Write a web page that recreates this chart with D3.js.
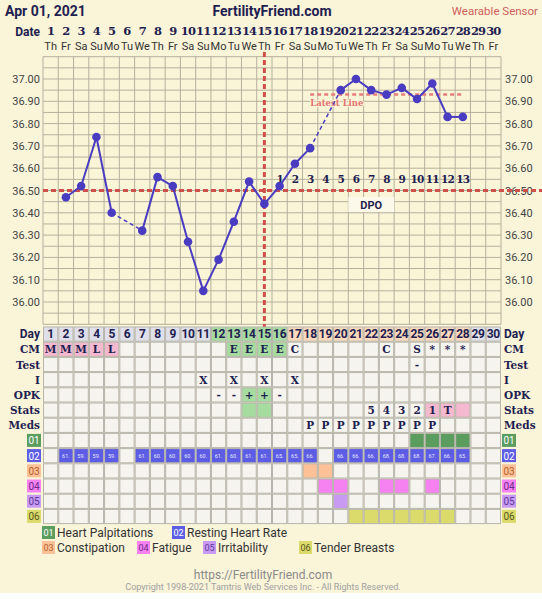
<!DOCTYPE html>
<html><head><meta charset="utf-8">
<script src="https://cdn.jsdelivr.net/npm/d3@7"></script>
<style>
html,body{margin:0;padding:0;background:#fff;}
svg{display:block;}
</style></head>
<body>
<svg id="c" width="542" height="600"></svg>
<script>
// ---------------- DATA ----------------
const days = [1,2,3,4,5,6,7,8,9,10,11,12,13,14,15,16,17,18,19,20,21,22,23,24,25,26,27,28,29,30];
const weekdays = ["Th","Fr","Sa","Su","Mo","Tu","We","Th","Fr","Sa","Su","Mo","Tu","We","Th","Fr","Sa","Su","Mo","Tu","We","Th","Fr","Sa","Su","Mo","Tu","We","Th","Fr"];
const temps = [null,36.47,36.52,36.74,36.40,null,36.32,36.56,36.52,36.27,36.05,36.19,36.36,36.54,36.44,36.52,36.62,36.69,null,36.95,37.00,36.95,36.93,36.96,36.91,36.98,36.83,36.83,null,null];
const tempTicks = [36.00,36.10,36.20,36.30,36.40,36.50,36.60,36.70,36.80,36.90,37.00];
const coverline = 36.50;
const ovulationDay = 15;
const latestLine = 36.93;
const latestLineDays = [18,28];
const dpoDays = [16,17,18,19,20,21,22,23,24,25,26,27,28];
const dpoLabels = ["1","2","3","4","5","6","7","8","9","10","11","12","13"];
const dayPhase = ["g","g","g","g","g","g","g","g","g","g","g","f","f","f","f","f","l","l","l","l","l","l","l","l","l","l","l","l","g","g"];
const cm = ["M","M","M","L","L","","","","","","","","E","E","E","E","C","","","","","","C","","S","*","*","*","",""];
const cmFill = ["p","p","p","p","p","","","","","","","","f","f","f","f","","","","","","","","","","","","","",""];
const test = ["","","","","","","","","","","","","","","","","","","","","","","","","-","","","","",""];
const intercourse = ["","","","","","","","","","","X","","X","","X","","X","","","","","","","","","","","","",""];
const opk = ["","","","","","","","","","","","-","-","+","+","-","","","","","","","","","","","","","",""];
const opkFill = ["","","","","","","","","","","","","","f","f","","","","","","","","","","","","","","",""];
const stats = ["","","","","","","","","","","","","","","","","","","","","","5","4","3","2","1","T","","",""];
const statsFill = ["","","","","","","","","","","","","","f","f","","","","","","","","","","","p","p","p","",""];
const meds = ["","","","","","","","","","","","","","","","","","P","P","P","P","P","P","P","P","P","","","",""];
const sym01 = [25,26,27,28];
const restingHR = ["","61.","59.","59.","59.","","61.","60.","60.","60.","60.","61.","60.","61.","61.","65.","65.","66.","","66.","66.","66.","68.","68.","68.","67.","66.","65.","",""];
const sym03 = [18,19];
const sym04 = [19,20,23,24,26];
const sym05 = [20];
const sym06 = [21,22,23,24,25,26,27];
const tableRows = ["Day","CM","Test","I","OPK","Stats","Meds","01","02","03","04","05","06"];
const legendCodes = ["01","02","03","04","05","06"];
const legendNames = ["Heart Palpitations","Resting Heart Rate","Constipation","Fatigue","Irritability","Tender Breasts"];

// ---------------- STYLE ----------------
const BG = "#faf4d9";
const NAVY = "#1e2150";
const GRID = "#b5b09d";
const LINE = "#4a3cc0";
const RED = "#cf4f4a";
const sans = "Roboto, 'Open Sans', sans-serif";
const serif = "'DejaVu Serif', serif";
const phaseColor = {g:"#dfe0ea", f:"#a7dca1", l:"#fbd9bd", p:"#f4b8cf"};
const symColor = {"01":"#5b9c5f","02":"#5d5ce4","03":"#fcc197","04":"#f681f1","05":"#c99af1","06":"#dbdb6b"};
const symText = {"01":"#fff","02":"#fff","03":"#b5622a","04":"#6a2b8a","05":"#5a3c9a","06":"#555520"};

const svg = d3.select("#c");
svg.append("rect").attr("width",542).attr("height",593).attr("fill",BG);

const x = d3.scaleBand().domain(days).range([43,501]).padding(0);
const bw = x.bandwidth();
const cx = d => x(d) + bw/2;
const y = d3.scaleLinear().domain([35.9,37.1]).range([324.3,56.7]);

// ---------- header ----------
svg.append("text").attr("x",5).attr("y",16).text("Apr 01, 2021")
  .attr("font-family",sans).attr("font-weight","bold").attr("font-size",14).attr("fill",NAVY);
svg.append("text").attr("x",272).attr("y",16).attr("text-anchor","middle").text("FertilityFriend.com")
  .attr("font-family",sans).attr("font-weight","bold").attr("font-size",14).attr("fill",NAVY);
svg.append("text").attr("x",538).attr("y",15).attr("text-anchor","end").text("Wearable Sensor")
  .attr("font-family",sans).attr("font-size",11.5).attr("fill","#cf5f5a");
svg.append("text").attr("x",40).attr("y",36).attr("text-anchor","end").text("Date")
  .attr("font-family",sans).attr("font-weight","bold").attr("font-size",12).attr("fill",NAVY);
svg.append("g").selectAll("text").data(days).join("text")
  .attr("x",d=>cx(d)).attr("y",35).attr("text-anchor","middle").text(d=>d)
  .attr("font-family",serif).attr("font-weight","bold").attr("font-size",11.5).attr("letter-spacing",-0.8).attr("fill",NAVY);
svg.append("g").selectAll("text").data(days).join("text")
  .attr("x",d=>cx(d)).attr("y",50).attr("text-anchor","middle").text((d,i)=>weekdays[i])
  .attr("font-family",sans).attr("font-size",11).attr("fill","#333");

// ---------- chart grid ----------
const g = svg.append("g");
g.append("rect").attr("x",43).attr("y",y(37.1)).attr("width",458).attr("height",y(35.9)-y(37.1)).attr("fill","#fbf5d8");
const hLines = d3.range(0,25).map(i=>35.9+i*0.05);
g.selectAll("line.h").data(hLines).join("line")
  .attr("x1",43).attr("x2",501).attr("y1",d=>y(d)).attr("y2",d=>y(d))
  .attr("stroke",GRID).attr("stroke-width",1);
g.selectAll("line.v").data(days.concat([31])).join("line")
  .attr("x1",d=>d<=30?x(d):501).attr("x2",d=>d<=30?x(d):501)
  .attr("y1",y(37.1)).attr("y2",y(35.9)).attr("stroke",GRID).attr("stroke-width",1);

// axis labels
g.selectAll("text.yl").data(tempTicks).join("text")
  .attr("x",40).attr("y",d=>y(d)+4).attr("text-anchor","end").text(d=>d.toFixed(2))
  .attr("font-family",sans).attr("font-size",11).attr("fill","#444");
g.selectAll("text.yr").data(tempTicks).join("text")
  .attr("x",505).attr("y",d=>y(d)+4).attr("text-anchor","start").text(d=>d.toFixed(2))
  .attr("font-family",sans).attr("font-size",11).attr("fill","#444");

// coverline & ovulation line
g.append("line").attr("x1",43).attr("x2",542).attr("y1",y(coverline)).attr("y2",y(coverline))
  .attr("stroke",RED).attr("stroke-width",3).attr("stroke-dasharray","5,3");
g.append("line").attr("x1",cx(ovulationDay)).attr("x2",cx(ovulationDay)).attr("y1",52).attr("y2",328)
  .attr("stroke",RED).attr("stroke-width",3).attr("stroke-dasharray","5,3");
// latest line
g.append("line").attr("x1",cx(latestLineDays[0])).attr("x2",cx(latestLineDays[1])).attr("y1",y(latestLine)).attr("y2",y(latestLine))
  .attr("stroke","#e77c7a").attr("stroke-width",2.5).attr("stroke-dasharray","4,3");
g.append("text").attr("x",cx(latestLineDays[0])).attr("y",y(latestLine)+11).text("Latest Line")
  .attr("font-family",serif).attr("font-weight","bold").attr("font-size",8.5).attr("fill","#e27373")
  .attr("stroke","#fbf5d8").attr("stroke-width",2).attr("paint-order","stroke");

// DPO
g.selectAll("text.dpo").data(dpoDays).join("text")
  .attr("x",d=>cx(d)).attr("y",y(36.55)+4).attr("text-anchor","middle").text((d,i)=>dpoLabels[i])
  .attr("font-family",serif).attr("font-weight","bold").attr("font-size",10.5).attr("letter-spacing",-0.8).attr("fill",NAVY);
g.append("rect").attr("x",x(21)).attr("y",197).attr("width",bw*3).attr("height",15).attr("fill","#fcf9ea");
g.append("text").attr("x",x(21)+bw*1.5).attr("y",209).attr("text-anchor","middle").text("DPO")
  .attr("font-family",sans).attr("font-weight","bold").attr("font-size",11).attr("fill",NAVY);

// temperature line
const pts = days.map((d,i)=>({d, t:temps[i]})).filter(p=>p.t!==null);
const segs = [];
for(let i=1;i<pts.length;i++){ segs.push({a:pts[i-1], b:pts[i], gap: pts[i].d-pts[i-1].d>1}); }
g.selectAll("line.seg").data(segs).join("line")
  .attr("x1",s=>cx(s.a.d)).attr("y1",s=>y(s.a.t)).attr("x2",s=>cx(s.b.d)).attr("y2",s=>y(s.b.t))
  .attr("stroke",LINE).attr("stroke-width",s=>s.gap?1.5:2).attr("stroke-dasharray",s=>s.gap?"4,3":null);
g.selectAll("circle").data(pts).join("circle")
  .attr("cx",p=>cx(p.d)).attr("cy",p=>y(p.t)).attr("r",4.3).attr("fill",LINE);

// ---------- table ----------
const t0 = 326.5, rh = 15.2;
const ry = r => t0 + tableRows.indexOf(r)*rh;
const tbl = svg.append("g");
function row(name, texts, fills, opts={}){
  const yy = ry(name);
  tbl.append("g").selectAll("rect").data(days).join("rect")
    .attr("x",d=>x(d)+0.5).attr("y",yy+0.5).attr("width",bw-1).attr("height",rh-1)
    .attr("fill",(d,i)=>fills(d,i)||"#f5f4ee").attr("stroke","#b7b5ab").attr("stroke-width",1);
  if(texts){
    tbl.append("g").selectAll("text").data(days).join("text")
      .attr("x",d=>cx(d)).attr("y",yy+rh/2+(opts.dy||4)).attr("text-anchor","middle")
      .text((d,i)=>texts[i])
      .attr("font-family",opts.font||serif).attr("font-weight",opts.weight||"bold")
      .attr("font-size",opts.size||11).attr("letter-spacing",opts.ls||0).attr("fill",opts.color||NAVY);
  }
}
row("Day", days.map(String), (d,i)=>phaseColor[dayPhase[i]], {font:sans, size:12, ls:-0.3});
row("CM", cm, (d,i)=>cmFill[i]?phaseColor[cmFill[i]]:null, {size:10.5});
row("Test", test, ()=>null, {size:10.5});
row("I", intercourse, ()=>null, {size:10.5});
row("OPK", opk, (d,i)=>opkFill[i]?phaseColor[opkFill[i]]:null, {size:10.5});
row("Stats", stats, (d,i)=>statsFill[i]?phaseColor[statsFill[i]]:null, {size:10.5});
row("Meds", meds, ()=>null, {size:10.5});
row("01", null, d=>sym01.includes(d)?symColor["01"]:null);
row("02", restingHR, (d,i)=>restingHR[i]?symColor["02"]:null, {font:sans, weight:"normal", size:5.5, color:"#e8e8ff", dy:2});
row("03", null, d=>sym03.includes(d)?symColor["03"]:null);
row("04", null, d=>sym04.includes(d)?symColor["04"]:null);
row("05", null, d=>sym05.includes(d)?symColor["05"]:null);
row("06", null, d=>sym06.includes(d)?symColor["06"]:null);

// row labels
tableRows.forEach(r=>{
  const yy = ry(r);
  if(legendCodes.includes(r)){
    [27,502].forEach(xx=>{
      tbl.append("rect").attr("x",xx).attr("y",yy+1).attr("width",14).attr("height",13).attr("fill",symColor[r]);
      tbl.append("text").attr("x",xx+7).attr("y",yy+11.5).attr("text-anchor","middle").text(r)
        .attr("font-family",sans).attr("font-size",10).attr("fill",symText[r]);
    });
  } else {
    const isDay = r==="Day";
    tbl.append("text").attr("x",40).attr("y",yy+rh/2+4).attr("text-anchor","end").text(r)
      .attr("font-family",isDay?sans:serif).attr("font-weight","bold").attr("font-size",isDay?12:10.5).attr("fill",NAVY);
    tbl.append("text").attr("x",504).attr("y",yy+rh/2+4).attr("text-anchor","start").text(r)
      .attr("font-family",isDay?sans:serif).attr("font-weight","bold").attr("font-size",isDay?12:10.5).attr("fill",NAVY);
  }
});

// ---------- legend ----------
const legPos = [[42,526],[172,526],[42,541],[137,541],[203,541],[299,541]];
legendCodes.forEach((c,i)=>{
  const [lx,ly] = legPos[i];
  svg.append("rect").attr("x",lx).attr("y",ly).attr("width",13).attr("height",13).attr("fill",symColor[c]);
  svg.append("text").attr("x",lx+6.5).attr("y",ly+10).attr("text-anchor","middle").text(c)
    .attr("font-family",sans).attr("font-size",9).attr("fill",symText[c]);
  svg.append("text").attr("x",lx+15).attr("y",ly+11).text(legendNames[i])
    .attr("font-family",sans).attr("font-size",12).attr("fill","#333");
});

// ---------- footer ----------
svg.append("text").attr("x",263).attr("y",579).attr("text-anchor","middle").text("https://FertilityFriend.com")
  .attr("font-family",sans).attr("font-size",12).attr("fill","#8a8a8a");
svg.append("text").attr("x",263).attr("y",590).attr("text-anchor","middle").text("Copyright 1998-2021 Tamtris Web Services Inc. - All Rights Reserved.")
  .attr("font-family",sans).attr("font-size",9).attr("fill","#a0a0a0");
</script>
</body></html>
